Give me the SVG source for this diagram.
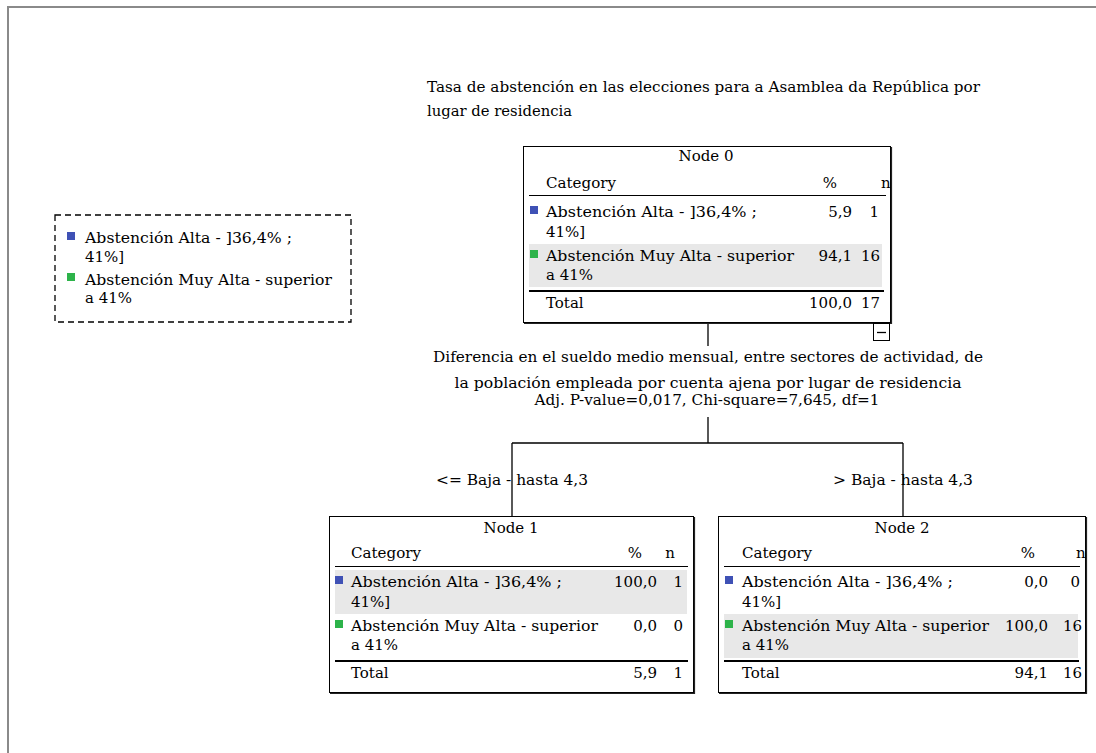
<svg xmlns="http://www.w3.org/2000/svg" width="1096" height="753" viewBox="0 0 1096 753">
<style>
.t{font-family:"DejaVu Serif","Liberation Serif",serif;font-size:15px;fill:#000}
.m{text-anchor:middle}
.e{text-anchor:end}
.box{fill:#fff;stroke:#000;stroke-width:1}
.sh{fill:none;stroke:#222;stroke-width:1.2}
.hl{stroke:#000;stroke-width:1}
.tl{stroke:#000;stroke-width:2}
.bg{fill:#e8e8e8}
.b{fill:#3f51b5}
.g{fill:#2db34a}
.cn{fill:none;stroke:#000;stroke-width:1.3}
</style>
<rect x="0" y="0" width="1096" height="753" fill="#fff"/>
<path d="M8 753 V7 H1096" fill="none" stroke="#8a8a8a" stroke-width="2"/>

<g id="title">
<text class="t" x="427" y="92" textLength="553" lengthAdjust="spacingAndGlyphs">Tasa de abstención en las elecciones para a Asamblea da República por</text>
<text class="t" x="427" y="116" textLength="145" lengthAdjust="spacingAndGlyphs">lugar de residencia</text>
</g>

<g id="legend">
<rect x="55" y="215" width="296" height="107" fill="none" stroke="#000" stroke-width="1.3" stroke-dasharray="6,4"/>
<rect class="b" x="67" y="232" width="8" height="8"/>
<text class="t" x="85" y="243" textLength="207" lengthAdjust="spacingAndGlyphs">Abstención Alta - ]36,4% ;</text>
<text class="t" x="85" y="262">41%]</text>
<rect class="g" x="67" y="273" width="8" height="8"/>
<text class="t" x="85" y="285" textLength="247" lengthAdjust="spacingAndGlyphs">Abstención Muy Alta - superior</text>
<text class="t" x="85" y="303">a 41%</text>
</g>

<g id="connectors">
<path class="cn" d="M708 322 V346"/>
<path class="cn" d="M708 417 V443 M512 443 H903 M512 443 V516 M903 443 V516"/>
</g>

<g id="split">
<text class="t m" x="708" y="362" textLength="550" lengthAdjust="spacingAndGlyphs">Diferencia en el sueldo medio mensual, entre sectores de actividad, de</text>
<text class="t m" x="708" y="388" textLength="507" lengthAdjust="spacingAndGlyphs">la población empleada por cuenta ajena por lugar de residencia</text>
<text class="t m" x="707" y="405" textLength="345" lengthAdjust="spacingAndGlyphs">Adj. P-value=0,017, Chi-square=7,645, df=1</text>
<text class="t" x="436" y="485" textLength="152" lengthAdjust="spacingAndGlyphs">&lt;= Baja - hasta 4,3</text>
<text class="t" x="833" y="485" textLength="140" lengthAdjust="spacingAndGlyphs">&gt; Baja - hasta 4,3</text>
</g>

<g id="node0">
<rect class="box" x="523.5" y="146.5" width="367" height="176"/>
<path class="sh" d="M891.5 147 V323.5 H524"/>
<rect class="bg" x="529" y="244" width="353" height="43"/>
<text class="t m" x="706" y="161">Node 0</text>
<text class="t" x="546" y="188" textLength="70" lengthAdjust="spacingAndGlyphs">Category</text>
<text class="t m" x="830" y="188">%</text>
<text class="t" x="881" y="188">n</text>
<line class="hl" x1="529" y1="195.5" x2="886" y2="195.5"/>
<rect class="b" x="530" y="206" width="8" height="8"/>
<text class="t" x="546" y="217" textLength="211" lengthAdjust="spacingAndGlyphs">Abstención Alta - ]36,4% ;</text>
<text class="t" x="546" y="237">41%]</text>
<text class="t e" x="852" y="217">5,9</text>
<text class="t e" x="879" y="217">1</text>
<rect class="g" x="530" y="250" width="8" height="8"/>
<text class="t" x="546" y="261" textLength="248" lengthAdjust="spacingAndGlyphs">Abstención Muy Alta - superior</text>
<text class="t" x="546" y="280">a 41%</text>
<text class="t e" x="852" y="261">94,1</text>
<text class="t e" x="880" y="261">16</text>
<line class="tl" x1="529" y1="291" x2="884" y2="291"/>
<text class="t" x="546" y="308">Total</text>
<text class="t e" x="852" y="308">100,0</text>
<text class="t e" x="880" y="308">17</text>
<rect x="873.5" y="323.5" width="16" height="17" fill="#fff" stroke="#000" stroke-width="1"/>
<line x1="877" y1="332.5" x2="886" y2="332.5" stroke="#000" stroke-width="1.3"/>
</g>

<g id="node1">
<rect class="box" x="329.5" y="516.5" width="364" height="176"/>
<path class="sh" d="M694.5 517 V693.5 H330"/>
<rect class="bg" x="335" y="570" width="352" height="44"/>
<text class="t m" x="511" y="533">Node 1</text>
<text class="t" x="351" y="558" textLength="70" lengthAdjust="spacingAndGlyphs">Category</text>
<text class="t m" x="635" y="558">%</text>
<text class="t m" x="670" y="558">n</text>
<line class="hl" x1="335" y1="566.5" x2="688" y2="566.5"/>
<rect class="b" x="335" y="576" width="8" height="8"/>
<text class="t" x="351" y="587" textLength="211" lengthAdjust="spacingAndGlyphs">Abstención Alta - ]36,4% ;</text>
<text class="t" x="351" y="607">41%]</text>
<text class="t e" x="657" y="587">100,0</text>
<text class="t e" x="683" y="587">1</text>
<rect class="g" x="335" y="620" width="8" height="8"/>
<text class="t" x="351" y="631" textLength="247" lengthAdjust="spacingAndGlyphs">Abstención Muy Alta - superior</text>
<text class="t" x="351" y="650">a 41%</text>
<text class="t e" x="657" y="631">0,0</text>
<text class="t e" x="683" y="631">0</text>
<line class="tl" x1="335" y1="661" x2="688" y2="661"/>
<text class="t" x="351" y="678">Total</text>
<text class="t e" x="657" y="678">5,9</text>
<text class="t e" x="683" y="678">1</text>
</g>

<g id="node2">
<rect class="box" x="718.5" y="516.5" width="367" height="176"/>
<path class="sh" d="M1086.5 517 V693.5 H719"/>
<rect class="bg" x="724" y="614" width="354" height="44"/>
<text class="t m" x="902" y="533">Node 2</text>
<text class="t" x="742" y="558" textLength="70" lengthAdjust="spacingAndGlyphs">Category</text>
<text class="t m" x="1028" y="558">%</text>
<text class="t" x="1076" y="558">n</text>
<line class="hl" x1="724" y1="566.5" x2="1080" y2="566.5"/>
<rect class="b" x="725" y="576" width="8" height="8"/>
<text class="t" x="742" y="587" textLength="211" lengthAdjust="spacingAndGlyphs">Abstención Alta - ]36,4% ;</text>
<text class="t" x="742" y="607">41%]</text>
<text class="t e" x="1048" y="587">0,0</text>
<text class="t e" x="1080" y="587">0</text>
<rect class="g" x="725" y="620" width="8" height="8"/>
<text class="t" x="742" y="631" textLength="247" lengthAdjust="spacingAndGlyphs">Abstención Muy Alta - superior</text>
<text class="t" x="742" y="650">a 41%</text>
<text class="t e" x="1048" y="631">100,0</text>
<text class="t e" x="1082" y="631">16</text>
<line class="tl" x1="724" y1="661" x2="1079" y2="661"/>
<text class="t" x="742" y="678">Total</text>
<text class="t e" x="1048" y="678">94,1</text>
<text class="t e" x="1082" y="678">16</text>
</g>
</svg>
